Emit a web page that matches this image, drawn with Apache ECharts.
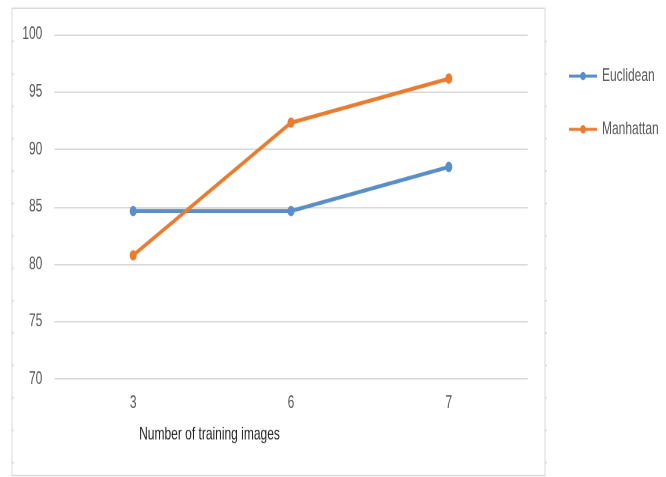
<!DOCTYPE html>
<html>
<head>
<meta charset="utf-8">
<script src="https://cdn.jsdelivr.net/npm/echarts@6/dist/echarts.min.js"></script>
<style>
  html, body { margin: 0; padding: 0; background: #ffffff; width: 666px; height: 477px; }
  /* the chart is laid out at 2/3 height and stretched vertically to fill the page */
  #chart { width: 666px; height: 318px; transform: scaleY(1.5); transform-origin: 0 0; }
</style>
</head>
<body>
<div id="chart"></div>
<script>
// Recognition accuracy (%) against the number of training images
const categories = ['3', '6', '7'];
const euclidean = [84.62, 84.62, 88.46];
const manhattan = [80.77, 92.31, 96.15];
const seriesNames = ['Euclidean', 'Manhattan'];
const yMin = 70, yMax = 100, yStep = 5;
const xAxisTitle = 'Number of training images';

const FONT = 'Liberation Sans, Arial, sans-serif';
const BLUE = '#5a8ec6';
const ORANGE = '#e97c30';
const GRID = '#d9d9d9';
const LABEL = '#595959';

// Thin outer frame with small tick marks down both sides
const frame = [{
  type: 'rect',
  shape: { x: 12, y: 5.5, width: 533, height: 311.5 },
  style: { fill: 'none', stroke: GRID, lineWidth: 1 },
  silent: true
}];
for (let k = 0; k < 14; k++) {
  const y = (41.5 + 32.4 * k) / 1.5;
  frame.push({ type: 'line', shape: { x1: 12, y1: y, x2: 14, y2: y }, style: { stroke: GRID, lineWidth: 1 }, silent: true });
  frame.push({ type: 'line', shape: { x1: 545, y1: y, x2: 547, y2: y }, style: { stroke: GRID, lineWidth: 1 }, silent: true });
}

const chart = echarts.init(document.getElementById('chart'), null, { devicePixelRatio: 2 });
chart.setOption({
  animation: false,
  backgroundColor: '#ffffff',
  textStyle: { fontFamily: FONT },
  graphic: frame,
  grid: { left: 54.3, right: 138.3, top: 22.9, bottom: 65.3, containLabel: false },
  legend: {
    data: seriesNames,
    orient: 'vertical',
    left: 563,
    top: 39.7,
    itemWidth: 28,
    itemHeight: 7,
    itemGap: 23.5,
    textStyle: { color: LABEL, fontSize: 12, fontFamily: FONT }
  },
  xAxis: {
    type: 'category',
    data: categories,
    boundaryGap: true,
    axisLine: { show: false },
    axisTick: { show: false },
    axisLabel: { color: LABEL, fontSize: 12, margin: 10, fontFamily: FONT },
    name: xAxisTitle,
    nameLocation: 'middle',
    nameGap: 31,
    nameTextStyle: { color: '#262626', fontSize: 12, fontFamily: FONT, padding: [0, 163, 0, 0] }
  },
  yAxis: {
    type: 'value',
    min: yMin,
    max: yMax,
    interval: yStep,
    axisLine: { show: false },
    axisTick: { show: false },
    axisLabel: { color: LABEL, fontSize: 12, margin: 12, fontFamily: FONT },
    splitLine: { lineStyle: { color: GRID, width: 1 } }
  },
  series: [
    {
      name: seriesNames[0],
      type: 'line',
      data: euclidean,
      symbol: 'circle',
      symbolSize: 7,
      lineStyle: { color: BLUE, width: 2.7 },
      itemStyle: { color: BLUE }
    },
    {
      name: seriesNames[1],
      type: 'line',
      data: manhattan,
      symbol: 'circle',
      symbolSize: 7,
      lineStyle: { color: ORANGE, width: 2.7 },
      itemStyle: { color: ORANGE }
    }
  ]
});
</script>
</body>
</html>
